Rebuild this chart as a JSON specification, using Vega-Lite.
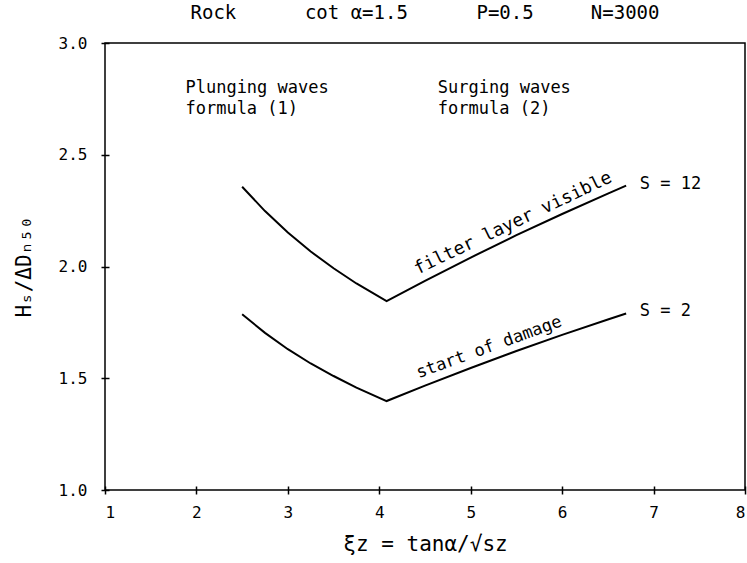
{
  "$schema": "https://vega.github.io/schema/vega-lite/v6.json",
  "width": 640,
  "height": 447,
  "autosize": {"type": "none"},
  "padding": {"left": 105, "top": 43, "right": 2, "bottom": 73},
  "background": "white",
  "config": {
    "view": {"stroke": "black", "strokeWidth": 1.5},
    "font": "DejaVu Sans Mono",
    "axis": {"grid": false, "domain": false, "tickColor": "black", "tickWidth": 1.5, "tickSize": 8, "offset": -4, "labelColor": "black", "labelFontSize": 16, "labelFont": "DejaVu Sans Mono", "titleFont": "DejaVu Sans Mono", "titleFontWeight": "normal", "titleColor": "black", "titleFontSize": 21}
  },
  "title": {"text": "Rock\u00a0\u00a0\u00a0\u00a0\u00a0\u00a0cot\u00a0α=1.5\u00a0\u00a0\u00a0\u00a0\u00a0\u00a0P=0.5\u00a0\u00a0\u00a0\u00a0\u00a0N=3000", "fontSize": 19, "fontWeight": "normal", "font": "DejaVu Sans Mono", "offset": 12, "anchor": "middle", "color": "black"},
  "datasets": {
    "curves": [
      {"curve": "S12", "xi": 2.5, "h": 2.357},
      {"curve": "S12", "xi": 2.75, "h": 2.248},
      {"curve": "S12", "xi": 3.0, "h": 2.152},
      {"curve": "S12", "xi": 3.25, "h": 2.067},
      {"curve": "S12", "xi": 3.5, "h": 1.992},
      {"curve": "S12", "xi": 3.75, "h": 1.924},
      {"curve": "S12", "xi": 4.08, "h": 1.845},
      {"curve": "S12", "xi": 4.5, "h": 1.936},
      {"curve": "S12", "xi": 5.0, "h": 2.040},
      {"curve": "S12", "xi": 5.5, "h": 2.140},
      {"curve": "S12", "xi": 6.0, "h": 2.235},
      {"curve": "S12", "xi": 6.5, "h": 2.326},
      {"curve": "S12", "xi": 6.7, "h": 2.362},
      {"curve": "S2", "xi": 2.5, "h": 1.786},
      {"curve": "S2", "xi": 2.75, "h": 1.703},
      {"curve": "S2", "xi": 3.0, "h": 1.630},
      {"curve": "S2", "xi": 3.25, "h": 1.566},
      {"curve": "S2", "xi": 3.5, "h": 1.510},
      {"curve": "S2", "xi": 3.75, "h": 1.458},
      {"curve": "S2", "xi": 4.08, "h": 1.398},
      {"curve": "S2", "xi": 4.5, "h": 1.467},
      {"curve": "S2", "xi": 5.0, "h": 1.546},
      {"curve": "S2", "xi": 5.5, "h": 1.622},
      {"curve": "S2", "xi": 6.0, "h": 1.694},
      {"curve": "S2", "xi": 6.5, "h": 1.763},
      {"curve": "S2", "xi": 6.7, "h": 1.790}
    ],
    "notes": [
      {"label": "Plunging waves\nformula (1)", "xi": 1.88, "h": 2.80},
      {"label": "Surging waves\nformula (2)", "xi": 4.64, "h": 2.80},
      {"label": "S = 12", "xi": 6.85, "h": 2.37},
      {"label": "S = 2", "xi": 6.85, "h": 1.80}
    ],
    "upperNote": [{"label": "filter layer visible", "xi": 5.52, "h": 2.144}],
    "lowerNote": [{"label": "start of damage", "xi": 5.25, "h": 1.584}]
  },
  "layer": [
    {
      "data": {"name": "curves"},
      "mark": {"type": "line", "color": "black", "strokeWidth": 2},
      "encoding": {
        "x": {"field": "xi", "type": "quantitative", "scale": {"domain": [1, 8], "nice": false, "zero": false},
              "axis": {"values": [1, 2, 3, 4, 5, 6, 7, 8], "format": "d", "labelPadding": 10, "title": "ξz = tanα/√sz", "titlePadding": 13}},
        "y": {"field": "h", "type": "quantitative", "scale": {"domain": [1, 3], "nice": false, "zero": false},
              "axis": {"values": [1, 1.5, 2, 2.5, 3], "format": ".1f", "labelPadding": 14, "title": "Hₛ/ΔDₙ₅₀", "titlePadding": 24}},
        "detail": {"field": "curve", "type": "nominal"}
      }
    },
    {
      "data": {"name": "notes"},
      "mark": {"type": "text", "align": "left", "baseline": "middle", "fontSize": 17, "lineHeight": 21, "lineBreak": "\n", "color": "black", "font": "DejaVu Sans Mono"},
      "encoding": {
        "x": {"field": "xi", "type": "quantitative"},
        "y": {"field": "h", "type": "quantitative"},
        "text": {"field": "label", "type": "nominal"}
      }
    },
    {
      "data": {"name": "upperNote"},
      "mark": {"type": "text", "align": "center", "baseline": "bottom", "dy": -3, "angle": 334.5, "fontSize": 18, "color": "black", "font": "DejaVu Sans Mono"},
      "encoding": {
        "x": {"field": "xi", "type": "quantitative"},
        "y": {"field": "h", "type": "quantitative"},
        "text": {"field": "label", "type": "nominal"}
      }
    },
    {
      "data": {"name": "lowerNote"},
      "mark": {"type": "text", "align": "center", "baseline": "bottom", "dy": -4, "angle": 340, "fontSize": 17, "color": "black", "font": "DejaVu Sans Mono"},
      "encoding": {
        "x": {"field": "xi", "type": "quantitative"},
        "y": {"field": "h", "type": "quantitative"},
        "text": {"field": "label", "type": "nominal"}
      }
    }
  ]
}
